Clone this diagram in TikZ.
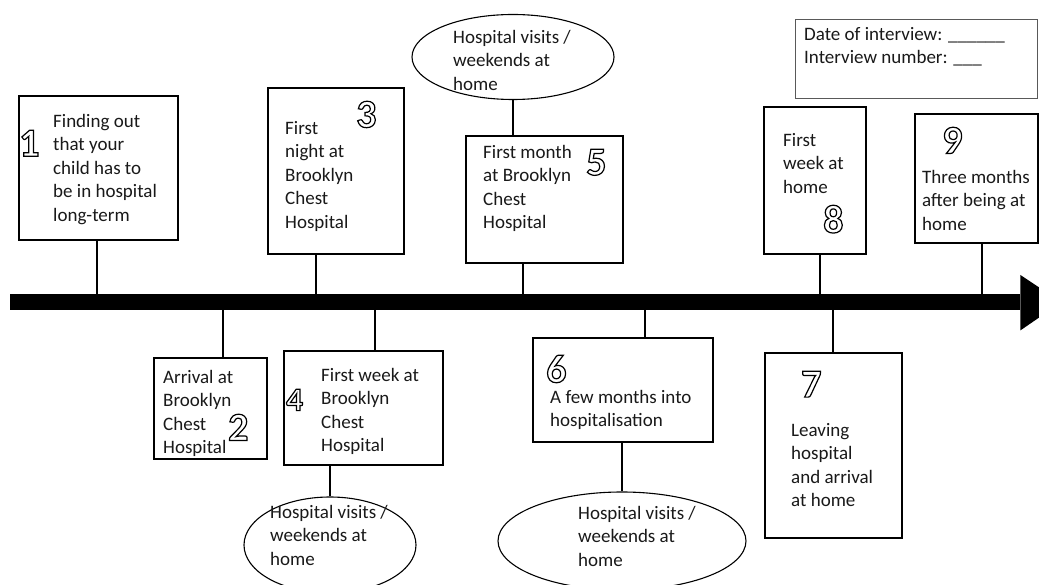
\documentclass[tikz,border=0pt]{standalone}
\usepackage{fontspec}
\setmainfont{Carlito}
\usetikzlibrary{shapes.geometric}
\newcommand{\outnum}[1]{\special{pdf:code 1 Tr 1.2 w}#1\special{pdf:code 0 Tr}}
\begin{document}
\begin{tikzpicture}[x=1pt,y=-1pt,
  evbox/.style={draw, line width=1.6pt, inner sep=0pt, anchor=north west},
  infobox/.style={draw=black!65, line width=1pt, inner sep=0pt, anchor=north west},
  txt/.style={anchor=north west, inner sep=0pt, align=left, text=black!90, font=\fontsize{19}{23.5}\selectfont},
  num/.style={anchor=north west, inner sep=0pt, font=\fontsize{40}{40}\selectfont\bfseries},
  oval/.style={draw, ellipse, line width=1.1pt, inner sep=0pt},
  tick/.style={line width=1.6pt}]
\useasboundingbox (0,0) rectangle (1039,585);
\clip (0,0) rectangle (1039,585);

% timeline bar
\node[fill=black, minimum width=1010pt, minimum height=16pt, inner sep=0pt, anchor=north west] (bar) at (10,294) {};
\fill ([yshift=19pt]bar.north east) -- ([xshift=41pt]bar.east) -- ([yshift=-20pt]bar.south east) -- cycle;

% boxes above
\node[evbox, minimum width=159pt, minimum height=144pt] (b1) at (18,95) {};
\node[evbox, minimum width=136pt, minimum height=166pt] (b3) at (267,87) {};
\node[evbox, minimum width=157pt, minimum height=127pt] (b5) at (465,135) {};
\node[evbox, minimum width=102pt, minimum height=147pt] (b8) at (763,106) {};
\node[evbox, minimum width=123pt, minimum height=129pt] (b9) at (914,113) {};
\node[infobox, minimum width=242pt, minimum height=79pt] (info) at (795,19) {};

% boxes below
\node[evbox, minimum width=113pt, minimum height=101pt] (b2) at (153,357) {};
\node[evbox, minimum width=159pt, minimum height=114pt] (b4) at (283,350) {};
\node[evbox, minimum width=180pt, minimum height=104pt] (b6) at (532,337) {};
\node[evbox, minimum width=137pt, minimum height=185pt] (b7) at (764,352) {};

% ellipses
\node[oval, minimum width=202pt, minimum height=85pt] (e5) at (513,57) {};
\node[oval, minimum width=172pt, minimum height=96pt] (e4) at (330,545) {};
\node[oval, minimum width=248pt, minimum height=98pt] (e6) at (622,541) {};

% tick positions
\coordinate (x1) at (97,0);
\coordinate (x2) at (223,0);
\coordinate (x3) at (316,0);
\coordinate (x4) at (375,0);
\coordinate (x5) at (523,0);
\coordinate (x6) at (645,0);
\coordinate (x8) at (820,0);
\coordinate (x7) at (833,0);
\coordinate (x9) at (982,0);

\draw[tick] (b1.south -| x1) -- (bar.north -| x1);
\draw[tick] (b3.south -| x3) -- (bar.north -| x3);
\draw[tick] (b5.south -| x5) -- (bar.north -| x5);
\draw[tick] (b8.south -| x8) -- (bar.north -| x8);
\draw[tick] (b9.south -| x9) -- (bar.north -| x9);
\draw[tick] (bar.south -| x2) -- (b2.north -| x2);
\draw[tick] (bar.south -| x4) -- (b4.north -| x4);
\draw[tick] (bar.south -| x6) -- (b6.north -| x6);
\draw[tick] (bar.south -| x7) -- (b7.north -| x7);

% ellipse connectors
\draw[tick] (e5.south) -- (e5.south |- b5.north);
\draw[tick] (b4.south -| e4.north) -- (e4.north);
\draw[tick] (b6.south -| e6.north) -- (e6.north);

% texts
\node[txt] (t1) at (53,114) {Finding out\\that your\\child has to\\be in hospital\\long-term};
\node[num] (n1) at (19,130) {\outnum{1}};
\node[txt] (t3) at (285,121) {First\\night at\\Brooklyn\\Chest\\Hospital};
\node[num] (n3) at (356,101) {\outnum{3}};
\node[txt] (t5) at (483,145) {First month\\at Brooklyn\\Chest\\Hospital};
\node[num] (n5) at (586,149) {\outnum{5}};
\node[txt] (t8) at (783,133) {First\\week at\\home};
\node[num] (n8) at (823,205) {\outnum{8}};
\node[txt] (t9) at (922,170) {Three months\\after being at\\home};
\node[num] (n9) at (942,127) {\outnum{9}};
\node[txt] (ti) at (804,27) {Date of interview: \_\_\_\_\_\_\\Interview number: \_\_\_};
\node[txt] (t2) at (163,370) {Arrival at\\Brooklyn\\Chest\\Hospital};
\node[num] (n2) at (228,414) {\outnum{2}};
\node[txt] (t4) at (321,368) {First week at\\Brooklyn\\Chest\\Hospital};
\node[num, font=\fontsize{33}{33}\selectfont\bfseries] (n4) at (286,389) {\outnum{4}};
\node[txt] (t6) at (550,390) {A few months into\\hospitalisation};
\node[num] (n6) at (546,355) {\outnum{6}};
\node[txt] (t7) at (791,423) {Leaving\\hospital\\and arrival\\at home};
\node[num] (n7) at (801,371) {\outnum{7}};
\node[txt] (te5) at (453,30) {Hospital visits /\\weekends at\\home};
\node[txt] (te4) at (270,505) {Hospital visits /\\weekends at\\home};
\node[txt] (te6) at (578,506) {Hospital visits /\\weekends at\\home};
\end{tikzpicture}
\end{document}
